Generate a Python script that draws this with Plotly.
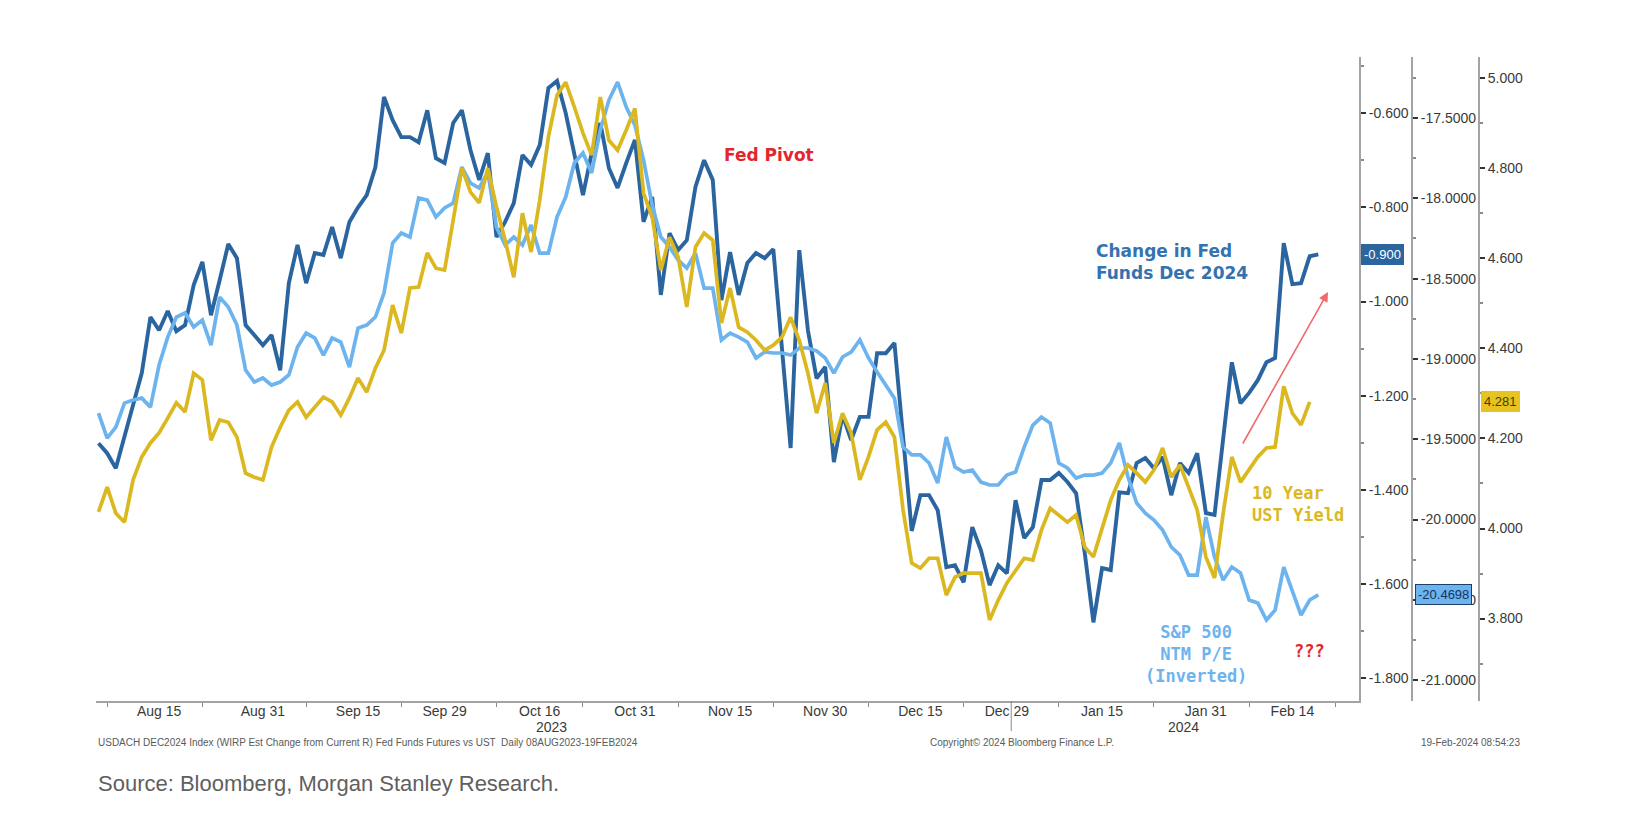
import pandas as pd
import plotly.graph_objects as go

# Business days shown on the chart (weekends removed, Bloomberg style)
dates = pd.bdate_range("2023-08-04", "2024-02-19").strftime("%Y-%m-%d").tolist()

# Change in Fed Funds Dec 2024 (left axis), one row per month
fed_aug = [-1.301, -1.322, -1.354, None, None, -1.152, -1.033, -1.061, -1.020, -1.063,
           -1.050, -0.965, -0.916, -1.029, -0.955, -0.878, -0.908, -1.050, -1.071, -1.093]
fed_sep = [-1.071, -1.146, -0.961, -0.880, -0.961, -0.897, -0.901, -0.842, -0.908, -0.831,
           -0.800, -0.774, -0.715, -0.566, -0.615, -0.651, -0.651, -0.662, -0.594, -0.696, -0.706]
fed_oct = [-0.621, -0.594, -0.679, -0.742, -0.685, -0.863, -0.831, -0.791, -0.689, -0.710, -0.668,
           -0.547, -0.532, -0.600, -0.689, -0.774, -0.685, -0.621, -0.717, -0.759, -0.706, -0.657]
fed_nov = [-0.831, -0.778, -0.986, -0.855, -0.891, -0.870, -0.757, -0.700, -0.742, -0.997, -0.895,
           -0.986, -0.918, -0.897, -0.908, -0.889, None, -1.311, -0.891, -1.061, -1.163, -1.139]
fed_dec = [-1.341, -1.241, -1.294, -1.245, -1.245, -1.110, -1.110, -1.088, None, -1.487, -1.411,
           -1.411, -1.443, -1.564, -1.560, -1.596, -1.479, -1.528, -1.602, -1.560, -1.577]
fed_jan = [-1.422, -1.502, -1.479, -1.379, -1.379, -1.364, -1.383, -1.407, -1.534, -1.681, -1.566, -1.570,
           -1.405, -1.407, -1.343, -1.332, -1.354, -1.330, -1.411, -1.343, -1.364, -1.322, -1.449]
fed_feb = [-1.453, None, -1.129, -1.216, -1.194, -1.167, -1.129, -1.120, -0.876, -0.963, -0.961, -0.904, -0.900]

# S&P 500 NTM P/E, inverted (middle axis)
spx_aug = [-19.337, -19.493, -19.424, -19.275, -19.256, -19.244, -19.300, -19.038, -18.864, -18.739,
           -18.714, -18.801, -18.758, -18.914, -18.615, -18.677, -18.789, -19.069, -19.144, -19.119]
spx_sep = [-19.163, -19.144, -19.100, -18.926, -18.839, -18.870, -18.976, -18.870, -18.895, -19.051,
           -18.808, -18.789, -18.739, -18.590, -18.278, -18.216, -18.241, -17.998, -18.011, -18.116, -18.060]
spx_oct = [-18.029, -17.805, -17.905, -17.936, -17.836, -18.179, -18.291, -18.241, -18.291, -18.166, -18.341,
           -18.341, -18.116, -17.992, -17.780, -17.718, -17.842, -17.575, -17.388, -17.276, -17.432, -17.544]
spx_nov = [-17.762, -18.042, -18.241, -18.303, -18.384, -18.434, -18.341, -18.559, -18.559, -18.882, -18.839,
           -18.864, -18.895, -18.994, -18.957, -18.963, -18.963, -18.976, -18.932, -18.932, -18.950, -18.994]
spx_dec = [-19.088, -18.988, -18.957, -18.882, -18.994, -19.082, -19.163, -19.244, -19.549, -19.598, -19.598,
           -19.648, -19.773, -19.486, -19.673, -19.704, -19.692, -19.767, -19.785, -19.785, -19.723]
spx_jan = [-19.704, -19.549, -19.412, -19.362, -19.399, -19.648, -19.679, -19.742, -19.723, -19.723, -19.711, -19.648,
           -19.524, -19.735, -19.897, -19.960, -20.003, -20.066, -20.171, -20.221, -20.346, -20.346, -19.985]
spx_feb = [-20.234, -20.377, -20.296, -20.333, -20.501, -20.520, -20.626, -20.564, -20.296, -20.439, -20.595,
           -20.501, -20.4698]

# 10 Year UST yield (right axis)
ust_aug = [4.037, 4.092, 4.034, 4.014, 4.108, 4.159, 4.190, 4.212, 4.245, 4.279,
           4.259, 4.345, 4.330, 4.196, 4.241, 4.236, 4.203, 4.123, 4.114, 4.108]
ust_sep = [4.181, 4.225, 4.263, 4.281, 4.247, 4.270, 4.292, 4.281, 4.252, 4.290,
           4.334, 4.303, 4.356, 4.396, 4.496, 4.434, 4.534, 4.536, 4.612, 4.578, 4.574]
ust_oct = [4.685, 4.800, 4.747, 4.723, 4.800, 4.714, 4.640, 4.558, 4.700, 4.614, 4.729,
           4.869, 4.962, 4.991, 4.936, 4.878, 4.829, 4.958, 4.862, 4.840, 4.885, 4.933]
ust_nov = [4.745, 4.691, 4.574, 4.647, 4.603, 4.492, 4.625, 4.656, 4.640, 4.456, 4.534,
           4.447, 4.436, 4.418, 4.396, 4.407, 4.425, 4.469, 4.418, 4.345, 4.256, 4.323]
ust_dec = [4.190, 4.256, 4.212, 4.108, 4.159, 4.219, 4.236, 4.203, 4.041, 3.923, 3.912,
           3.934, 3.934, 3.852, 3.892, 3.901, 3.901, 3.901, 3.797, 3.841, 3.879]
ust_jan = [3.908, 3.934, 3.930, 3.997, 4.045, 4.030, 4.014, 4.030, 3.959, 3.937, 3.997, 4.063,
           4.108, 4.141, 4.123, 4.103, 4.130, 4.179, 4.114, 4.141, 4.092, 4.041, 3.937]
ust_feb = [3.890, 4.034, 4.159, 4.103, 4.130, 4.159, 4.179, 4.181, 4.316, 4.256, 4.230, 4.281, None]

fed = fed_aug + fed_sep + fed_oct + fed_nov + fed_dec + fed_jan + fed_feb
spx = spx_aug + spx_sep + spx_oct + spx_nov + spx_dec + spx_jan + spx_feb
ust = ust_aug + ust_sep + ust_oct + ust_nov + ust_dec + ust_jan + ust_feb

tick_dates = ["2023-08-15", "2023-08-31", "2023-09-15", "2023-09-29", "2023-10-16", "2023-10-31",
              "2023-11-15", "2023-11-30", "2023-12-15", "2023-12-29", "2024-01-15", "2024-01-31",
              "2024-02-14"]
tick_text = ["Aug 15", "Aug 31", "Sep 15", "Sep 29", "Oct 16", "Oct 31", "Nov 15", "Nov 30",
             "Dec 15", "Dec 29", "Jan 15", "Jan 31", "Feb 14"]
minor_dates = ["2023-08-07", "2023-08-22", "2023-09-07", "2023-09-22", "2023-10-09", "2023-10-23",
               "2023-11-07", "2023-11-22", "2023-12-07", "2023-12-22", "2024-01-08", "2024-01-23",
               "2024-02-07", "2024-02-21"]

# y tick values of the three right-hand scales
fed_ticks = [-1.8, -1.6, -1.4, -1.2, -1.0, -0.8, -0.6]
spx_ticks = [-21.0, -20.5, -20.0, -19.5, -19.0, -18.5, -18.0, -17.5]
ust_ticks = [3.8, 4.0, 4.2, 4.4, 4.6, 4.8, 5.0]

DARK = "#2a65a0"
LIGHT = "#6db4ef"
GOLD = "#dbb81f"
RED = "#e2262d"
AXIS = "#a3a3a3"
TXT = "#3a3a3a"
tick_font = dict(family="Liberation Sans, Arial, sans-serif", size=14, color=TXT)

fig = go.Figure()
fig.add_trace(go.Scatter(x=dates, y=spx, yaxis="y2", mode="lines", connectgaps=True,
                         line=dict(color=LIGHT, width=3.7), name="S&P 500 NTM P/E (Inverted)"))
fig.add_trace(go.Scatter(x=dates, y=ust, yaxis="y3", mode="lines", connectgaps=True,
                         line=dict(color=GOLD, width=3.7), name="10 Year UST Yield"))
fig.add_trace(go.Scatter(x=dates, y=fed, yaxis="y", mode="lines", connectgaps=True,
                         line=dict(color=DARK, width=3.9), name="Change in Fed Funds Dec 2024"))

# the page body adds 8 px, so the figure is drawn 8 px smaller on each side.
# plot area is 96..1359 px (reference pixels) inside a 96..1540 paper
xdom = (1359 - 96) / 1444


def px(x):
    return (x - 96) / 1444


def py(y):
    return (701 - y) / 644


yaxis_common = dict(showgrid=False, zeroline=False, showline=True, linecolor=AXIS, linewidth=2,
                    ticks="outside", ticklen=5, tickwidth=2, tickcolor="#333333",
                    tickfont=tick_font, side="right", tickmode="array")

fig.update_layout(
    width=1624, height=812,
    margin=dict(l=88, r=92, t=49, b=119),
    paper_bgcolor="white", plot_bgcolor="white",
    showlegend=False,
    xaxis=dict(
        domain=[0, xdom], type="date",
        range=["2023-08-03 17:00", "2024-02-23 16:48"],
        rangebreaks=[dict(bounds=["sat", "mon"])],
        tickmode="array", tickvals=tick_dates, ticktext=tick_text,
        ticks="", tickfont=tick_font, ticklabelstandoff=-4,
        showgrid=False, zeroline=False, showline=True, linecolor=AXIS, linewidth=2,
        minor=dict(tickmode="array", tickvals=minor_dates, ticks="outside", ticklen=4,
                   tickcolor="#8a8a8a", showgrid=False),
    ),
    yaxis=dict(yaxis_common, anchor="x", range=[-1.848, -0.481],
               tickvals=fed_ticks, ticktext=[f"{v:.3f}" for v in fed_ticks],
               minor=dict(dtick=0.1, tick0=-1.8, ticks="outside", ticklen=3, tickcolor="#8a8a8a")),
    yaxis2=dict(yaxis_common, overlaying="y", anchor="free", position=px(1412),
                range=[-21.13, -17.12],
                tickvals=spx_ticks, ticktext=[f"{v:.4f}" for v in spx_ticks],
                minor=dict(dtick=0.25, tick0=-21, ticks="outside", ticklen=3, tickcolor="#8a8a8a")),
    yaxis3=dict(yaxis_common, overlaying="y", anchor="free", position=px(1479),
                range=[3.617, 5.047],
                tickvals=ust_ticks, ticktext=[f"{v:.3f}" for v in ust_ticks],
                minor=dict(dtick=0.1, tick0=3.8, ticks="outside", ticklen=3, tickcolor="#8a8a8a")),
)

bold = "DejaVu Sans, Verdana, sans-serif"
mono = "DejaVu Sans Mono, monospace"
foot = dict(family="Liberation Sans, Arial", size=10, color="#5a5a5a")
notes = [
    dict(text="<b>Fed Pivot</b>", x=px(722), y=py(155), xanchor="left",
         font=dict(family=bold, size=17, color=RED)),
    dict(text="<b>Change in Fed<br>Funds Dec 2024</b>", x=px(1094), y=py(262), xanchor="left",
         align="left", font=dict(family=bold, size=17, color="#3572b0")),
    dict(text="<b>10 Year<br>UST Yield</b>", x=px(1250), y=py(504), xanchor="left",
         align="left", font=dict(family=mono, size=17, color=GOLD)),
    dict(text="<b>S&P 500<br>NTM P/E<br>(Inverted)</b>", x=px(1196), y=py(654), xanchor="center",
         align="center", font=dict(family=mono, size=17, color=LIGHT)),
    dict(text="<b>???</b>", x=px(1309), y=py(651), xanchor="center",
         font=dict(family=mono, size=17, color=RED)),
    dict(text="2023", xref="x", x="2023-10-17 10:00", y=py(727), yanchor="middle", font=tick_font),
    dict(text="2024", xref="x", x="2024-01-26 10:00", y=py(727), yanchor="middle", font=tick_font),
    dict(text="USDACH DEC2024 Index (WIRP Est Change from Current R) Fed Funds Futures vs UST  "
              "Daily 08AUG2023-19FEB2024",
         x=0, y=py(742), xanchor="left", font=foot),
    dict(text="Copyright\u00a9 2024 Bloomberg Finance L.P.", x=px(928), y=py(742), xanchor="left",
         font=foot),
    dict(text="19-Feb-2024 08:54:23", x=px(1522), y=py(742), xanchor="right", font=foot),
    dict(text="Source: Bloomberg, Morgan Stanley Research.", x=0, y=py(783), xanchor="left",
         font=dict(family="Liberation Sans, Arial", size=22, color="#5f5f5f")),
]
for n in notes:
    n.setdefault("xref", "paper")
    n.setdefault("yref", "paper")
    n.setdefault("yanchor", "middle")
    n["showarrow"] = False
    fig.add_annotation(**n)

# red trend arrow
fig.add_annotation(x=px(1328), y=py(292), xref="paper", yref="paper", text="",
                   showarrow=True, ax=-86, ay=153, arrowhead=2, arrowsize=1.2,
                   arrowwidth=1.6, arrowcolor="#f06a6a")

# last value tags on each axis
last_ust = [v for v in ust if v is not None][-1]
tags = [
    (f"{fed[-1]:.3f}", "y", fed[-1], px(1361), DARK, "white", DARK),
    (f"{spx[-1]:.4f}", "y2", spx[-1], px(1415), LIGHT, "#12355e", "#1d3f6e"),
    (f"{last_ust:.3f}", "y3", last_ust, px(1481), "#e6c31e", "#4a3d00", "#e6c31e"),
]
for label, yref, yval, xpos, bg, fg, border in tags:
    fig.add_annotation(text=label, xref="paper", yref=yref, x=xpos, y=yval,
                       xanchor="left", yanchor="middle", showarrow=False,
                       bgcolor=bg, bordercolor=border, borderwidth=1, borderpad=2,
                       font=dict(family="Liberation Sans, Arial", size=13, color=fg))

# year divider under the axis
fig.add_shape(type="line", xref="x", yref="paper", x0="2023-12-29 12:00", x1="2023-12-29 12:00",
              y0=0, y1=py(731), line=dict(color="#8a8a8a", width=1))

fig.write_html("out.html")
